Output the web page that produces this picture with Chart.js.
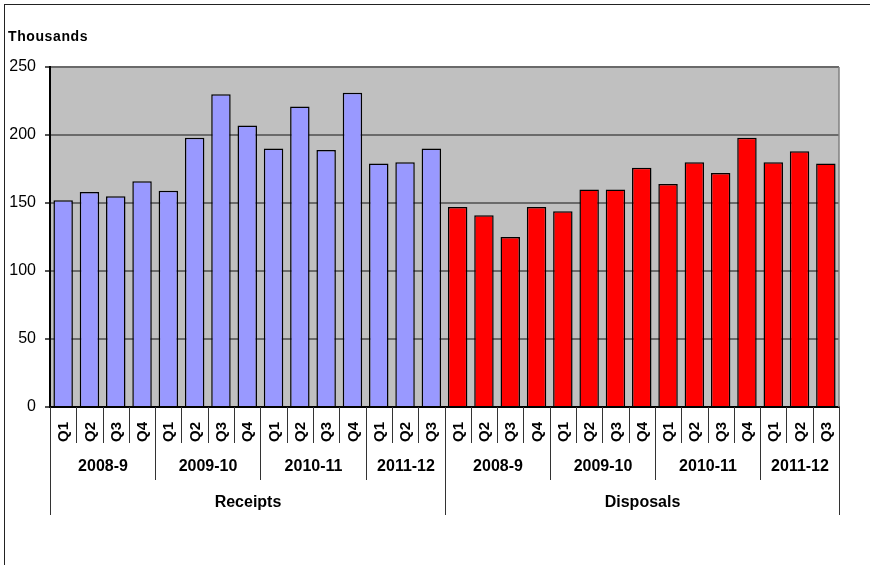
<!DOCTYPE html>
<html>
<head>
<meta charset="utf-8">
<script src="https://cdn.jsdelivr.net/npm/chart.js@4.4.1/dist/chart.umd.min.js"></script>
<style>
  html, body { margin: 0; padding: 0; background: #fff; }
  canvas { display: block; }
</style>
</head>
<body>
<canvas id="myChart" width="870" height="565"></canvas>
<script>
// quarterly figures, thousands
const receipts = [152, 158, 155, 166, 159, 198, 230, 207, 190, 221, 189, 231, 179, 180, 190];
const disposals = [147, 141, 125, 147, 144, 160, 160, 176, 164, 180, 172, 198, 180, 188, 179];
const groups = ['Receipts', 'Disposals'];
const years = ['2008-9', '2009-10', '2010-11', '2011-12'];
const quartersInYear = [4, 4, 4, 3];
const quarters = ['Q1', 'Q2', 'Q3', 'Q4'];
const yTicks = [0, 50, 100, 150, 200, 250];

const FONT = "'Liberation Sans', Arial, sans-serif";

// flat label list for the category scale
const xlabels = [];
groups.forEach(g => {
  years.forEach((y, yi) => {
    for (let q = 0; q < quartersInYear[yi]; q++) xlabels.push(quarters[q]);
  });
});

const nulls = n => new Array(n).fill(null);
const receiptsData = receipts.concat(nulls(disposals.length));
const disposalsData = nulls(receipts.length).concat(disposals);

// grey plot area
const plotBackground = {
  id: 'plotBackground',
  beforeDraw(chart) {
    const { ctx, chartArea: a } = chart;
    ctx.save();
    ctx.fillStyle = '#C0C0C0';
    ctx.fillRect(a.left, a.top, a.right - a.left, a.bottom - a.top);
    ctx.restore();
  },
  afterDatasetsDraw(chart) {
    const { ctx, chartArea: a } = chart;
    ctx.save();
    ctx.strokeStyle = '#808080';
    ctx.lineWidth = 1.5;
    ctx.beginPath();
    ctx.moveTo(Math.round(a.right), a.top);
    ctx.lineTo(Math.round(a.right), a.bottom);
    ctx.stroke();
    ctx.restore();
  }
};

// three-level category axis + unit caption + outer frame
const multiAxis = {
  id: 'multiAxis',
  afterDraw(chart) {
    const { ctx, chartArea: a } = chart;
    const xs = chart.scales.x;
    const n = xlabels.length;
    const step = (xs.getPixelForValue(1) - xs.getPixelForValue(0));
    const edge = i => Math.round(xs.getPixelForValue(i) - step / 2) + 0.5;
    const base = a.bottom;

    ctx.save();
    ctx.strokeStyle = '#333';
    ctx.lineWidth = 1;
    ctx.fillStyle = '#000';

    // quarter separators
    ctx.beginPath();
    for (let i = 0; i <= n; i++) {
      ctx.moveTo(edge(i), base);
      ctx.lineTo(edge(i), base + 36);
    }
    ctx.stroke();

    // quarter labels, rotated
    ctx.font = 'bold 15px ' + FONT;
    ctx.textAlign = 'center';
    ctx.textBaseline = 'middle';
    xlabels.forEach((lab, i) => {
      ctx.save();
      ctx.translate(xs.getPixelForValue(i) + 1, base + 25);
      ctx.rotate(-Math.PI / 2);
      ctx.fillText(lab, 0, 0);
      ctx.restore();
    });

    // year and group rows
    ctx.font = 'bold 16px ' + FONT;
    let idx = 0;
    groups.forEach(g => {
      const gStart = idx;
      years.forEach((y, yi) => {
        const s = idx;
        idx += quartersInYear[yi];
        ctx.fillText(y, (edge(s) + edge(idx)) / 2, base + 60);
        ctx.beginPath();
        ctx.moveTo(edge(idx), base);
        ctx.lineTo(edge(idx), base + 73);
        ctx.stroke();
      });
      ctx.fillText(g, (edge(gStart) + edge(idx)) / 2, base + 96);
      ctx.beginPath();
      ctx.moveTo(edge(gStart), base);
      ctx.lineTo(edge(gStart), base + 108);
      ctx.moveTo(edge(idx), base);
      ctx.lineTo(edge(idx), base + 108);
      ctx.stroke();
    });

    // unit caption
    ctx.textAlign = 'left';
    ctx.font = 'bold 14px ' + FONT;
    ctx.letterSpacing = '0.6px';
    ctx.fillText('Thousands', 8, 37);
    ctx.letterSpacing = '0px';

    // outer frame
    ctx.strokeStyle = '#222';
    ctx.strokeRect(4.5, 4.5, 900, 700);
    ctx.restore();
  }
};

const ctx = document.getElementById('myChart').getContext('2d');
const myChart = new Chart(ctx, {
  type: 'bar',
  data: {
    labels: xlabels,
    datasets: [{
      label: 'Receipts',
      data: receiptsData,
      backgroundColor: '#9999FF',
      borderColor: '#000',
      borderWidth: 1.5,
      barPercentage: 0.74,
      categoryPercentage: 1
    }, {
      label: 'Disposals',
      data: disposalsData,
      backgroundColor: '#FF0000',
      borderColor: '#000',
      borderWidth: 1.5,
      barPercentage: 0.74,
      categoryPercentage: 1
    }]
  },
  options: {
    responsive: false,
    animation: false,
    devicePixelRatio: 1,
    grouped: false,
    skipNull: true,
    layout: { padding: { left: 0, top: 67, right: 31, bottom: 158 } },
    plugins: {
      legend: { display: false },
      tooltip: { enabled: false }
    },
    scales: {
      x: {
        ticks: { display: false },
        grid: { display: false },
        border: { display: true, color: '#000', width: 2 },
        afterFit: s => { s.height = 0; }
      },
      y: {
        min: 0,
        max: 250,
        afterBuildTicks: s => { s.ticks = yTicks.map(v => ({ value: v })); },
        ticks: {
          color: '#000',
          font: { family: FONT, size: 16 },
          padding: 9
        },
        grid: {
          color: '#6a6a6a',
          lineWidth: 2,
          tickLength: 5,
          tickColor: '#555'
        },
        border: { color: '#000', width: 2 },
        afterFit: s => { s.width = 50; }
      }
    }
  },
  plugins: [plotBackground, multiAxis]
});
</script>
</body>
</html>
